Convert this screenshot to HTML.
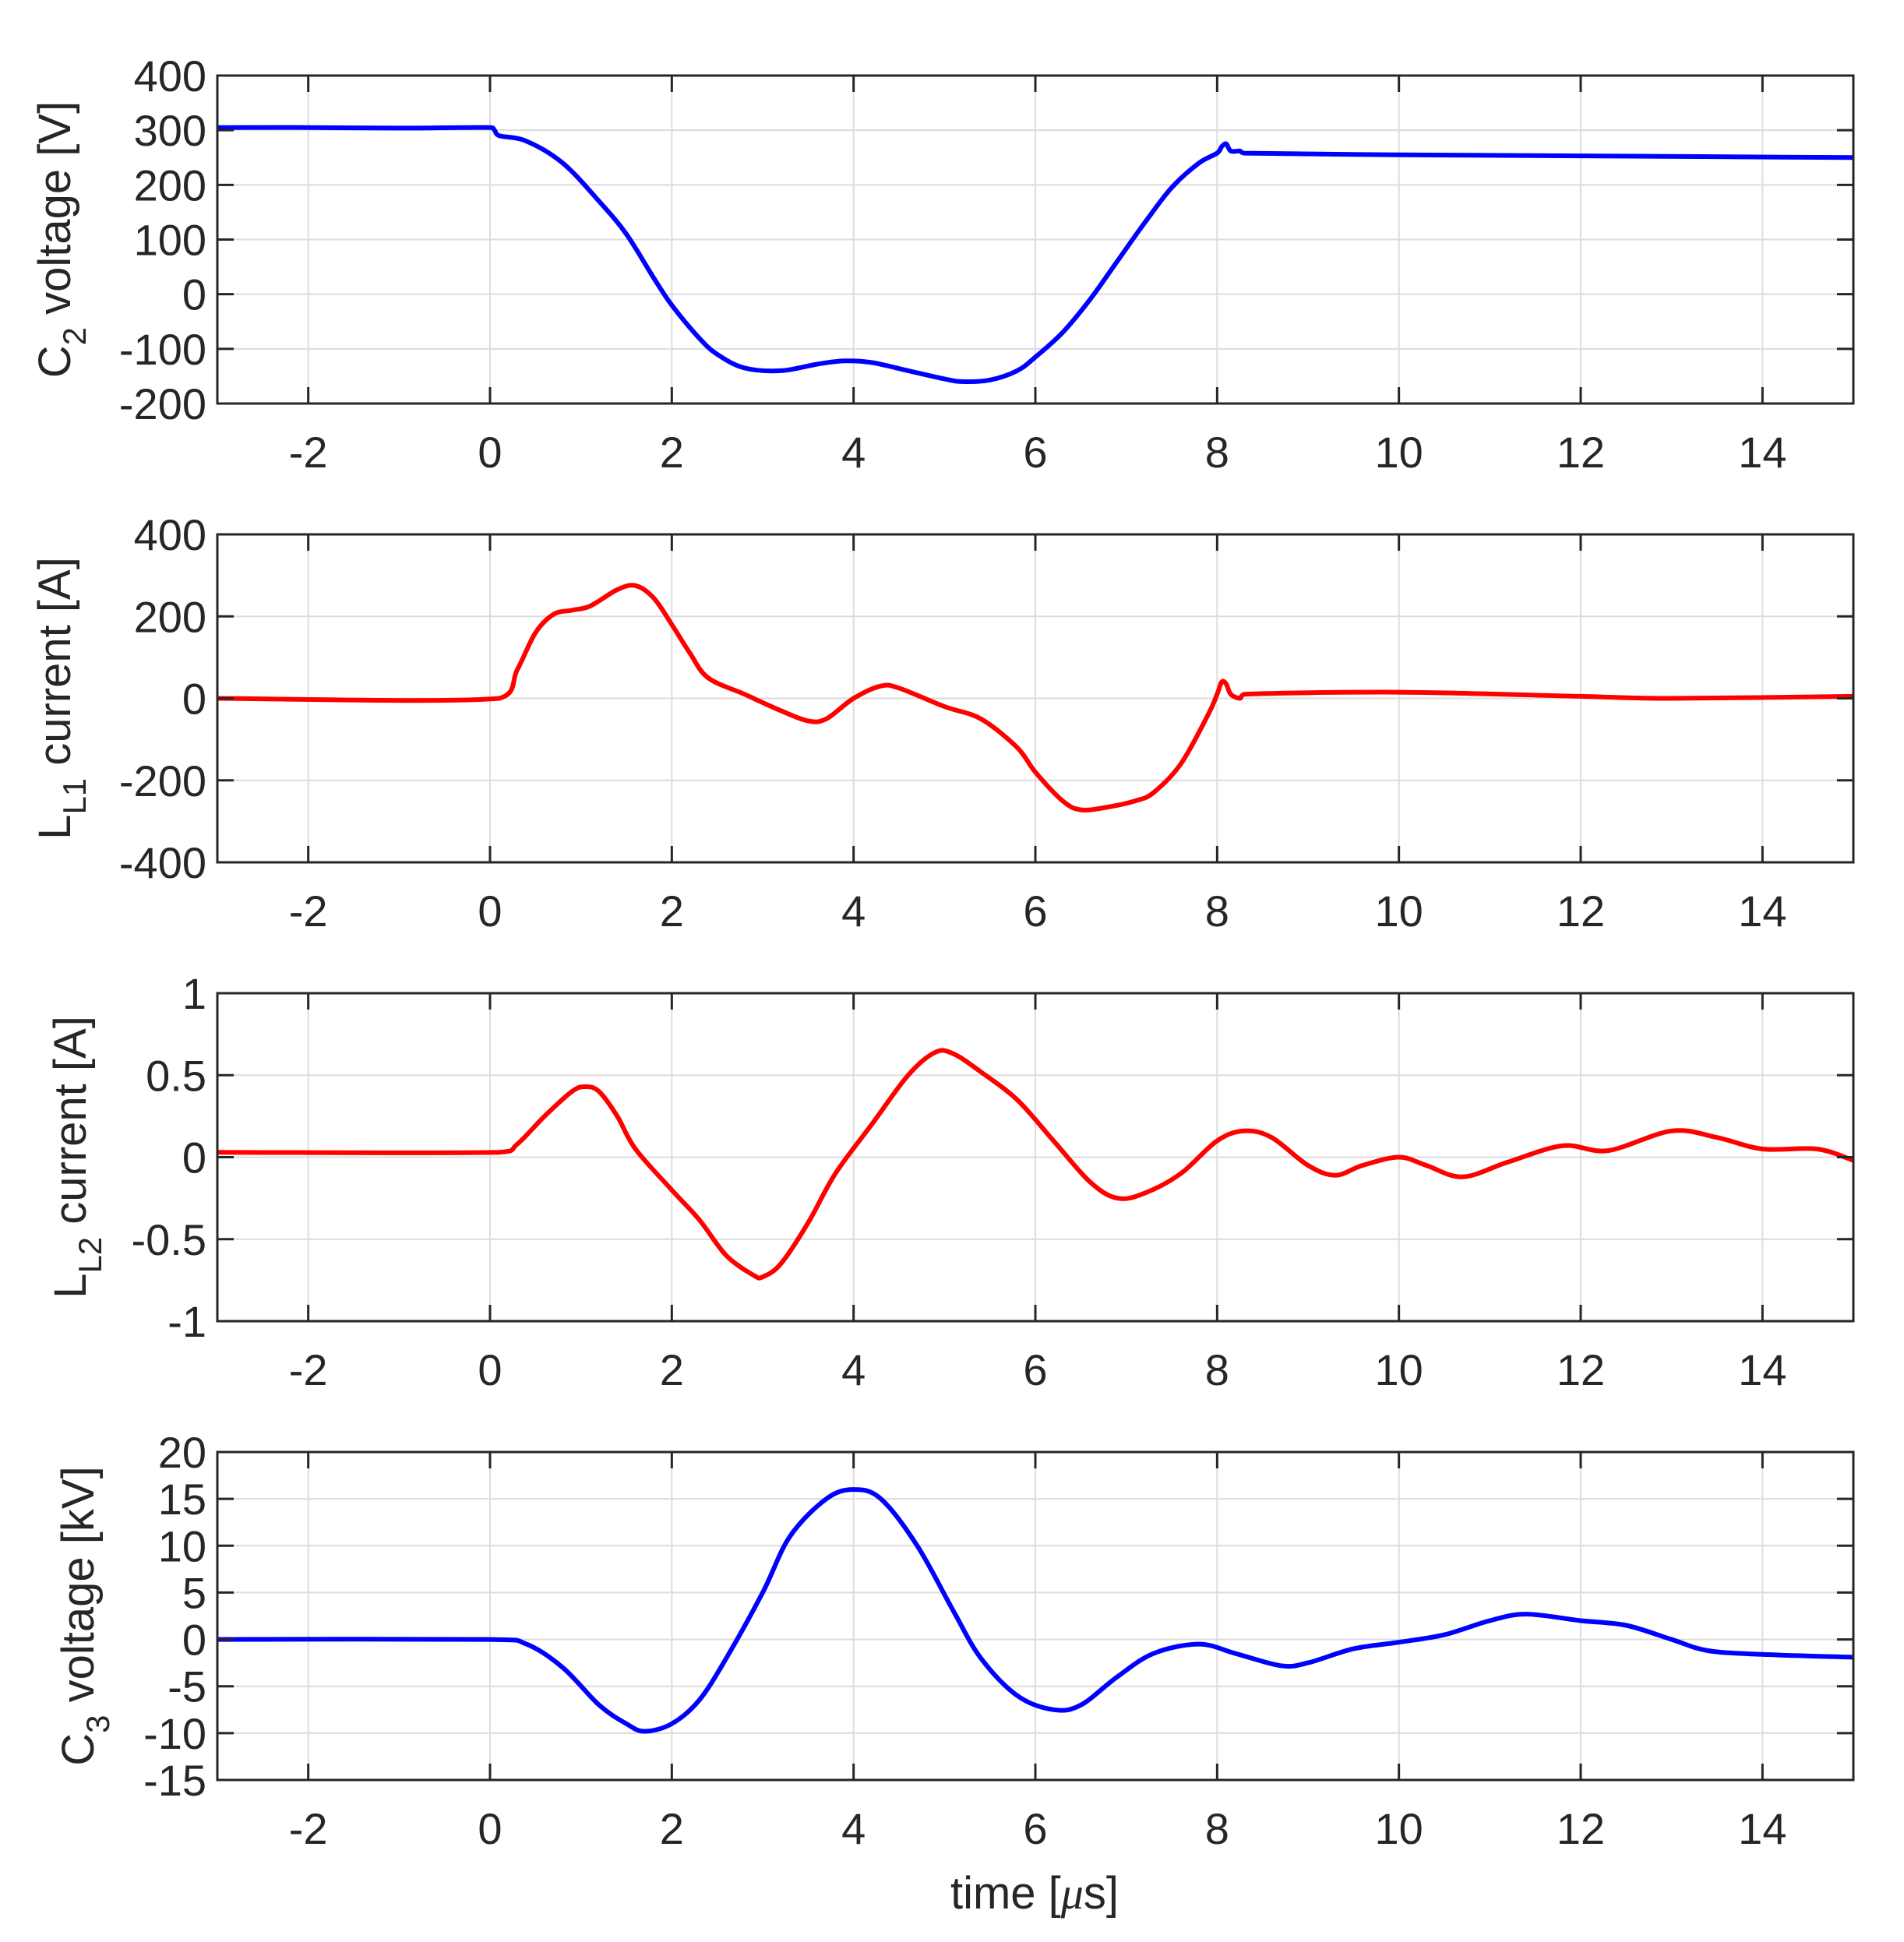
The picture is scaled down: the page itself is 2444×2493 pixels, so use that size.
<!DOCTYPE html>
<html><head><meta charset="utf-8"><style>
html,body{margin:0;padding:0;background:#fff;}
svg{display:block;}
text{font-family:"Liberation Sans",Arial,sans-serif;fill:#262626;}
</style></head><body>
<svg id="s" width="2444" height="2493" viewBox="0 0 2444 2493" xmlns="http://www.w3.org/2000/svg"></svg>
<script>
var L=279,R=2379,W=R-L,H=421;
var tops=[97,686,1275,1864];
function X(t){return L+(t+3)/18*W;}
var plots=[
 {lo:-200,hi:400,ticks:[-200,-100,0,100,200,300,400],lab:["-200","-100","0","100","200","300","400"],col:"#0000ff",
  lbl:['C','2',' voltage [V]'],lx:70,
  d:[[-3,305],[-2,305],[-1,304],[0,305],[0.05,300],[0.1,290],[0.4,280],[0.8,240],[1.2,170],[1.5,110],[1.8,30],[2.0,-20],[2.3,-80],[2.5,-110],[2.8,-135],[3.2,-140],[3.6,-128],[3.9,-122],[4.2,-125],[4.6,-140],[5.0,-155],[5.2,-160],[5.5,-157],[5.8,-140],[6.0,-115],[6.3,-70],[6.6,-10],[6.9,60],[7.2,130],[7.5,195],[7.8,240],[8.0,258],[8.05,270],[8.1,275],[8.15,262],[8.25,262],[8.3,258],[10,255],[12,253],[15,250]]},
 {lo:-400,hi:400,ticks:[-400,-200,0,200,400],lab:["-400","-200","0","200","400"],col:"#ff0000",
  lbl:['L','L1',' current [A]'],lx:70,
  d:[[-3,0],[0.1,0],[0.3,70],[0.5,160],[0.7,205],[0.9,215],[1.1,225],[1.4,265],[1.6,275],[1.8,245],[2.0,180],[2.2,110],[2.4,50],[2.8,10],[3.2,-30],[3.5,-55],[3.7,-50],[4.0,0],[4.3,30],[4.5,25],[5.0,-20],[5.4,-50],[5.8,-120],[6.0,-180],[6.3,-250],[6.5,-272],[6.8,-265],[7.1,-250],[7.3,-230],[7.6,-160],[7.9,-40],[8.0,10],[8.05,40],[8.1,35],[8.15,10],[8.25,0],[8.3,10],[10,15],[12,5],[13,0],[15,5]]},
 {lo:-1,hi:1,ticks:[-1,-0.5,0,0.5,1],lab:["-1","-0.5","0","0.5","1"],col:"#ff0000",
  lbl:['L','L2',' current [A]'],lx:90,
  d:[[-3,0.03],[0.1,0.03],[0.3,0.08],[0.6,0.25],[0.9,0.4],[1.05,0.43],[1.2,0.4],[1.4,0.25],[1.6,0.05],[2.0,-0.2],[2.3,-0.38],[2.6,-0.6],[2.9,-0.72],[3.0,-0.73],[3.2,-0.65],[3.5,-0.4],[3.8,-0.1],[4.2,0.2],[4.6,0.5],[4.9,0.64],[5.1,0.63],[5.4,0.52],[5.8,0.35],[6.2,0.1],[6.6,-0.15],[6.9,-0.25],[7.2,-0.22],[7.6,-0.1],[8.0,0.1],[8.3,0.16],[8.6,0.12],[9.0,-0.05],[9.3,-0.11],[9.6,-0.05],[10.0,0.0],[10.3,-0.05],[10.7,-0.12],[11.2,-0.03],[11.8,0.07],[12.3,0.04],[13.0,0.16],[13.5,0.12],[14.0,0.05],[14.6,0.05],[15,-0.02]]},
 {lo:-15,hi:20,ticks:[-15,-10,-5,0,5,10,15,20],lab:["-15","-10","-5","0","5","10","15","20"],col:"#0000ff",
  lbl:['C','3',' voltage [kV]'],lx:100,
  d:[[-3,0],[0,0],[0.4,-0.5],[0.8,-3],[1.2,-7],[1.5,-9],[1.7,-9.8],[2.0,-9],[2.3,-6.5],[2.6,-2],[3.0,5],[3.3,11],[3.7,15],[4.0,16],[4.3,15],[4.7,10],[5.1,3],[5.4,-2],[5.8,-6],[6.2,-7.5],[6.5,-7],[6.9,-4],[7.3,-1.5],[7.8,-0.5],[8.2,-1.5],[8.7,-2.8],[9.0,-2.5],[9.5,-1],[10.0,-0.3],[10.5,0.5],[11.0,2],[11.4,2.7],[12,2],[12.5,1.5],[13.0,0],[13.4,-1.2],[14,-1.6],[15,-1.9]]}
];
var out=[];
function smooth(pts){
 var s="M"+pts[0][0].toFixed(1)+","+pts[0][1].toFixed(1);
 for(var i=0;i<pts.length-1;i++){
  var p0=pts[i-1]||pts[i],p1=pts[i],p2=pts[i+1],p3=pts[i+2]||p2;
  var c1x=p1[0]+(p2[0]-p0[0])/6,c1y=p1[1]+(p2[1]-p0[1])/6;
  var c2x=p2[0]-(p3[0]-p1[0])/6,c2y=p2[1]-(p3[1]-p1[1])/6;
  if(c1x>p2[0])c1x=p2[0]; if(c2x<p1[0])c2x=p1[0];
  s+="C"+c1x.toFixed(1)+","+c1y.toFixed(1)+" "+c2x.toFixed(1)+","+c2y.toFixed(1)+" "+p2[0].toFixed(1)+","+p2[1].toFixed(1);
 }
 return s;
}
plots.forEach(function(p,k){
 var T=tops[k],B=T+H;
 function Y(v){return B-(v-p.lo)/(p.hi-p.lo)*H;}
 for(var t=-2;t<=14;t+=2){var x=X(t);out.push('<line x1="'+x+'" y1="'+T+'" x2="'+x+'" y2="'+B+'" stroke="#dcdcdc" stroke-width="2"/>');}
 p.ticks.forEach(function(v){var y=Y(v);if(v!=p.lo&&v!=p.hi)out.push('<line x1="'+L+'" y1="'+y+'" x2="'+R+'" y2="'+y+'" stroke="#dcdcdc" stroke-width="2"/>');});
 var pts=p.d.map(function(d){return [X(d[0]),Y(d[1])];});
 out.push('<path d="'+smooth(pts)+'" fill="none" stroke="'+p.col+'" stroke-width="6" stroke-linejoin="round"/>');
 for(var t=-2;t<=14;t+=2){var x=X(t);
  out.push('<line x1="'+x+'" y1="'+T+'" x2="'+x+'" y2="'+(T+21)+'" stroke="#262626" stroke-width="3"/>');
  out.push('<line x1="'+x+'" y1="'+B+'" x2="'+x+'" y2="'+(B-21)+'" stroke="#262626" stroke-width="3"/>');
  out.push('<text x="'+x+'" y="'+(B+82)+'" font-size="56" text-anchor="middle">'+t+'</text>');}
 p.ticks.forEach(function(v,i){var y=Y(v);
  out.push('<line x1="'+L+'" y1="'+y+'" x2="'+(L+21)+'" y2="'+y+'" stroke="#262626" stroke-width="3"/>');
  out.push('<line x1="'+R+'" y1="'+y+'" x2="'+(R-21)+'" y2="'+y+'" stroke="#262626" stroke-width="3"/>');
  out.push('<text x="'+(L-14)+'" y="'+(y+20)+'" font-size="56" text-anchor="end">'+p.lab[i]+'</text>');});
 out.push('<rect x="'+L+'" y="'+T+'" width="'+W+'" height="'+H+'" fill="none" stroke="#262626" stroke-width="3"/>');
 var cy=T+H/2;
 out.push('<text transform="translate('+(p.lx+20)+','+cy+') rotate(-90)" font-size="58" text-anchor="middle">'+p.lbl[0]+'<tspan font-size="42" dy="20">'+p.lbl[1]+'</tspan><tspan dy="-20">'+p.lbl[2]+'</tspan></text>');
});
out.push('<text x="1328" y="2450" font-size="58" text-anchor="middle">time [<tspan font-family="Liberation Serif" font-style="italic">μ</tspan>s]</text>');
document.getElementById('s').innerHTML=out.join('');
</script>
</body></html>
